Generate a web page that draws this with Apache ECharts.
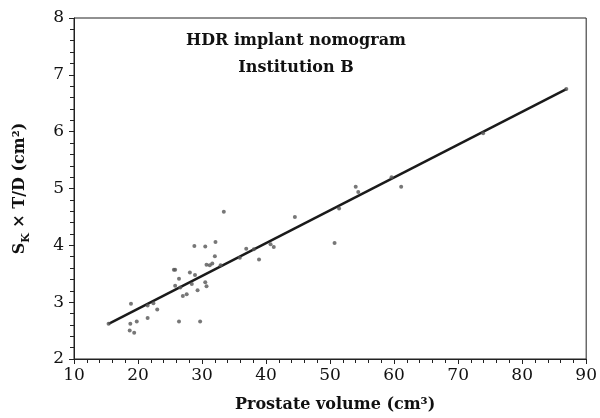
<!DOCTYPE html>
<html>
<head>
<meta charset="utf-8">
<script src="https://cdn.jsdelivr.net/npm/echarts@6/dist/echarts.min.js"></script>
<style>
html, body { margin: 0; padding: 0; background: #fff; }
#chart { width: 600px; height: 418px; }
</style>
</head>
<body>
<div id="chart"></div>
<script>
// prostate volume (cm3) of each implant
var volumes = [15.4, 18.9, 18.8, 19.8, 18.7, 19.4, 21.5, 21.5, 22.4, 23.0,
	26.4, 25.6, 25.8, 26.4, 25.8, 26.6, 27.0, 27.6, 28.1, 28.8,
	28.9, 28.4, 29.3, 29.7, 30.5, 30.5, 30.7, 30.7, 31.2, 31.6,
	32.1, 32.0, 33.4, 32.9, 35.9, 36.9, 38.1, 38.9, 40.7, 41.2,
	44.5, 50.7, 51.4, 54.0, 54.4, 59.6, 61.1, 73.9, 86.9];
// Sk x T/D (cm2)
var strengths = [2.62, 2.97, 2.62, 2.66, 2.50, 2.46, 2.72, 2.94, 2.98, 2.87,
	2.66, 3.57, 3.57, 3.41, 3.29, 3.26, 3.11, 3.14, 3.52, 3.99,
	3.48, 3.32, 3.21, 2.66, 3.98, 3.35, 3.28, 3.66, 3.65, 3.68,
	4.06, 3.81, 4.59, 3.65, 3.78, 3.94, 3.93, 3.75, 4.02, 3.97,
	4.50, 4.04, 4.65, 5.03, 4.94, 5.20, 5.03, 5.97, 6.75];
// fitted nomogram line end points
var fitX = [15.4, 86.9];
var fitY = [2.62, 6.75];

var xTicks = { min: 10, max: 90, interval: 10 };
var yTicks = { min: 2, max: 8, interval: 1 };

var serif = '"DejaVu Serif", "Liberation Serif", serif';

var pts = volumes.map(function(v, i) { return [v, strengths[i]]; });
var fit = fitX.map(function(v, i) { return [v, fitY[i]]; });

var chart = echarts.init(document.getElementById('chart'));
chart.setOption({
	animation: false,
	backgroundColor: '#fff',
	title: {
		text: 'HDR implant nomogram\nInstitution B',
		left: 291,
		top: 22,
		textAlign: 'center',
		textStyle: {
			fontFamily: serif,
			fontWeight: 'bold',
			fontSize: 16,
			lineHeight: 27,
			color: '#111'
		}
	},
	grid: {
		left: 74, right: 9, top: 18, bottom: 59,
		show: true,
		borderColor: '#222',
		borderWidth: 1
	},
	xAxis: {
		type: 'value',
		min: xTicks.min, max: xTicks.max, interval: xTicks.interval,
		name: 'Prostate volume (cm³)',
		nameLocation: 'middle',
		nameGap: 38,
		nameTextStyle: { fontFamily: serif, fontWeight: 'bold', fontSize: 16, color: '#111', padding: [0, 0, 0, 10] },
		axisLine: { lineStyle: { color: '#222', width: 1 } },
		axisTick: { show: true, length: 5, lineStyle: { color: '#222' } },
		minorTick: { show: true, splitNumber: 5, length: 4, lineStyle: { color: '#222' } },
		splitLine: { show: false },
		axisLabel: { fontFamily: serif, fontSize: 17, color: '#111', margin: 8 }
	},
	yAxis: {
		type: 'value',
		min: yTicks.min, max: yTicks.max, interval: yTicks.interval,
		name: '{n|S}{sub|K}{n| × T/D (cm²)}',
		nameLocation: 'middle',
		nameRotate: 90,
		nameGap: 42,
		nameTextStyle: {
			fontFamily: serif, fontWeight: 'bold', fontSize: 16, color: '#111',
			rich: {
				n: { fontFamily: serif, fontWeight: 'bold', fontSize: 16, color: '#111', lineHeight: 24 },
				sub: { fontFamily: serif, fontWeight: 'bold', fontSize: 11, color: '#111', lineHeight: 24, verticalAlign: 'bottom' }
			}
		},
		axisLine: { show: true, lineStyle: { color: '#222', width: 1 } },
		axisTick: { show: true, length: 5, lineStyle: { color: '#222' } },
		minorTick: { show: true, splitNumber: 5, length: 4, lineStyle: { color: '#222' } },
		splitLine: { show: false },
		axisLabel: { fontFamily: serif, fontSize: 17, color: '#111', margin: 10 }
	},
	series: [{
		type: 'line',
		data: fit,
		symbol: 'none',
		lineStyle: { color: '#1a1a1a', width: 2.5 },
		z: 2
	}, {
		type: 'scatter',
		data: pts,
		symbol: 'circle',
		symbolSize: 4,
		itemStyle: { color: '#555' },
		z: 3
	}]
});
</script>
</body>
</html>
